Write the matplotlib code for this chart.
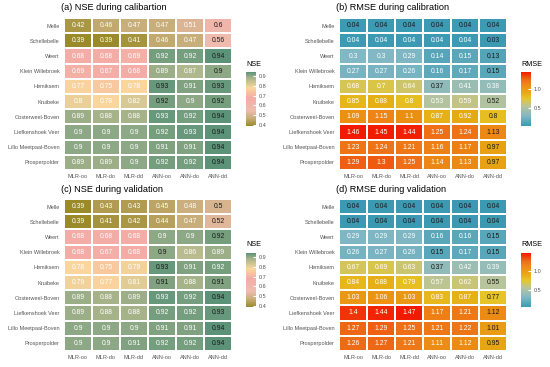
import matplotlib.pyplot as plt
import numpy as np
from matplotlib.colors import LinearSegmentedColormap, Normalize

plt.rcParams['font.family'] = ['Liberation Sans', 'DejaVu Sans']

stations = ["Melle", "Schellebelle", "Weert", "Klein Willebroek", "Hemiksem", "Kruibeke",
            "Oosterweel-Boven", "Liefkenshoek Veer", "Lillo Meetpaal-Boven", "Prosperpolder"]
models = ["MLR-oo", "MLR-do", "MLR-dd", "ANN-oo", "ANN-do", "ANN-dd"]

nse_cal = [[0.42, 0.46, 0.47, 0.47, 0.51, 0.6],
           [0.39, 0.39, 0.41, 0.46, 0.47, 0.56],
           [0.68, 0.68, 0.69, 0.92, 0.92, 0.94],
           [0.69, 0.67, 0.68, 0.89, 0.87, 0.9],
           [0.77, 0.75, 0.78, 0.93, 0.91, 0.93],
           [0.8, 0.78, 0.82, 0.92, 0.9, 0.92],
           [0.89, 0.88, 0.88, 0.93, 0.92, 0.94],
           [0.9, 0.9, 0.9, 0.92, 0.93, 0.94],
           [0.9, 0.9, 0.9, 0.91, 0.91, 0.94],
           [0.89, 0.89, 0.9, 0.92, 0.92, 0.94]]

rmse_cal = [[0.04, 0.04, 0.04, 0.04, 0.04, 0.04],
            [0.04, 0.04, 0.04, 0.04, 0.04, 0.03],
            [0.3, 0.3, 0.29, 0.14, 0.15, 0.13],
            [0.27, 0.27, 0.26, 0.16, 0.17, 0.15],
            [0.68, 0.7, 0.64, 0.37, 0.41, 0.38],
            [0.85, 0.88, 0.8, 0.53, 0.59, 0.52],
            [1.09, 1.15, 1.1, 0.87, 0.92, 0.8],
            [1.46, 1.45, 1.44, 1.25, 1.24, 1.13],
            [1.23, 1.24, 1.21, 1.16, 1.17, 0.97],
            [1.29, 1.3, 1.25, 1.14, 1.13, 0.97]]

nse_val = [[0.39, 0.43, 0.43, 0.45, 0.48, 0.5],
           [0.39, 0.41, 0.42, 0.44, 0.47, 0.52],
           [0.68, 0.68, 0.68, 0.9, 0.9, 0.92],
           [0.68, 0.67, 0.68, 0.9, 0.86, 0.89],
           [0.78, 0.75, 0.79, 0.93, 0.91, 0.92],
           [0.79, 0.77, 0.81, 0.91, 0.88, 0.91],
           [0.89, 0.88, 0.89, 0.93, 0.92, 0.94],
           [0.89, 0.88, 0.88, 0.92, 0.92, 0.93],
           [0.9, 0.9, 0.9, 0.91, 0.91, 0.94],
           [0.9, 0.9, 0.91, 0.92, 0.92, 0.94]]

rmse_val = [[0.04, 0.04, 0.04, 0.04, 0.04, 0.04],
            [0.04, 0.04, 0.04, 0.04, 0.04, 0.04],
            [0.29, 0.29, 0.29, 0.16, 0.16, 0.15],
            [0.26, 0.27, 0.26, 0.15, 0.17, 0.15],
            [0.67, 0.69, 0.63, 0.37, 0.42, 0.39],
            [0.84, 0.88, 0.79, 0.57, 0.62, 0.55],
            [1.03, 1.06, 1.03, 0.83, 0.87, 0.77],
            [1.4, 1.44, 1.47, 1.17, 1.21, 1.12],
            [1.27, 1.29, 1.25, 1.21, 1.22, 1.01],
            [1.26, 1.27, 1.21, 1.11, 1.12, 0.95]]

# colour stops (value, colour)
nse_stops = [(0.39, "#9a8a2a"), (0.47, "#c8ae7a"), (0.55, "#efbcae"), (0.68, "#f4aca6"),
             (0.78, "#fad69c"), (0.88, "#a8b48a"), (0.94, "#5c9378")]
rmse_stops = [(0.03, "#3b9ab2"), (0.3, "#82b7c4"), (0.55, "#b8c49c"), (0.75, "#e6c62a"),
              (0.9, "#e6ac12"), (1.1, "#ec8e14"), (1.25, "#ee7016"), (1.47, "#f21a00")]


def make_cmap(stops, vmin, vmax):
    pts = [(min(max((v - vmin) / (vmax - vmin), 0), 1), c) for v, c in stops]
    pts[0] = (0.0, pts[0][1])
    pts[-1] = (1.0, pts[-1][1])
    return LinearSegmentedColormap.from_list("custom", pts)


fig = plt.figure(figsize=(5.5, 3.67), dpi=100)
W, H = 550, 367


def heat(x0, y0, data, stops, higher_better, title, legend, ticks):
    data = np.array(data)
    vmin, vmax = data.min(), data.max()
    cmap = make_cmap(stops, vmin, vmax)
    norm = Normalize(vmin, vmax)
    ax = fig.add_axes([x0 / W, 1 - (y0 + 152) / H, 168 / W, 152 / H])
    mesh = ax.pcolormesh(data, cmap=cmap, norm=norm, edgecolors="white", linewidth=0.3)
    ax.set_ylim(len(stations), 0)
    ax.set_xlim(0, len(models))
    for i in range(data.shape[0]):
        best = data[i].max() if higher_better else data[i].min()
        for j in range(data.shape[1]):
            v = data[i, j]
            col = "#1a1a1a" if v == best else "white"
            ax.text(j + 0.5, i + 0.5, f"{v:g}", ha="center", va="center",
                    fontsize=4.9, color=col)
    ax.set_xticks(np.arange(len(models)) + 0.5, models)
    ax.set_yticks(np.arange(len(stations)) + 0.5, stations)
    ax.tick_params(length=0, labelsize=4.0, labelcolor="#555555", pad=3)
    for s in ax.spines.values():
        s.set_visible(False)
    fig.text((x0 - 3) / W, 1 - (y0 - 10) / H, title, fontsize=6.6, va="center", ha="left")
    # legend
    cax = fig.add_axes([(x0 + 182) / W, 1 - (y0 + 108) / H, 10 / W, 54 / H])
    cb = fig.colorbar(mesh, cax=cax, ticks=ticks)
    cb.outline.set_visible(False)
    cax.tick_params(length=2, color="white", direction="in", labelsize=4.0,
                    labelcolor="#555555", pad=2)
    fig.text((x0 + 182) / W, 1 - (y0 + 46) / H, legend, fontsize=5.2, va="center", ha="left")
    return ax


heat(64, 18, nse_cal, nse_stops, True, "(a) NSE during calibartion", "NSE",
     [0.4, 0.5, 0.6, 0.7, 0.8, 0.9])
heat(339, 18, rmse_cal, rmse_stops, False, "(b) RMSE during calibration", "RMSE",
     [0.5, 1.0])
heat(64, 199, nse_val, nse_stops, True, "(c) NSE during validation", "NSE",
     [0.4, 0.5, 0.6, 0.7, 0.8, 0.9])
heat(339, 199, rmse_val, rmse_stops, False, "(d) RMSE during validation", "RMSE",
     [0.5, 1.0])

fig.savefig("out.png", dpi=100)
